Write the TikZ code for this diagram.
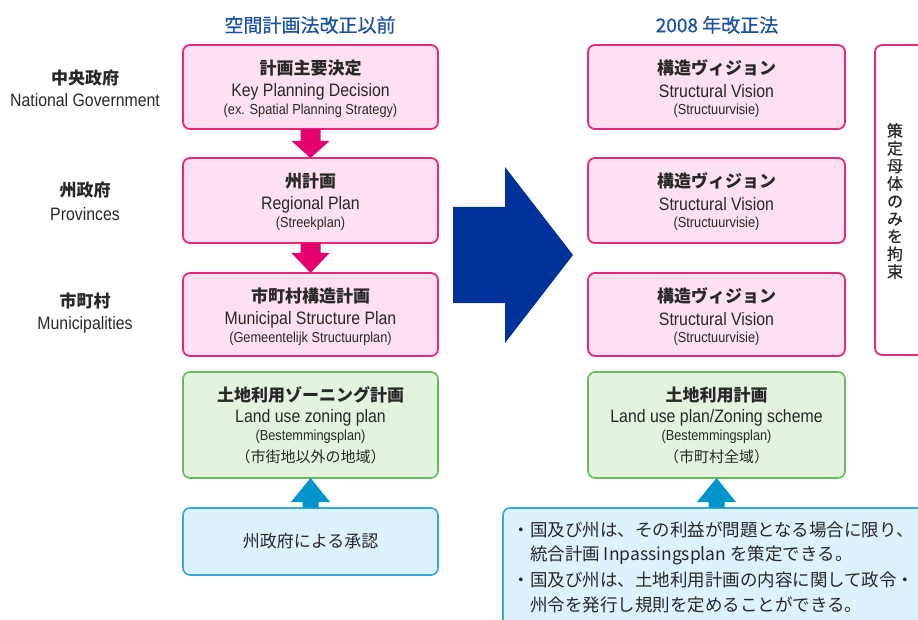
\documentclass[tikz,border=0pt]{standalone}
\usepackage{fontspec}
\setmainfont[FakeStretch=0.88]{Liberation Sans}
\newfontfamily\jp{Noto Sans CJK JP}
\newfontfamily\jph[FakeBold=0.6]{Noto Sans CJK JP}
\usetikzlibrary{calc}
\definecolor{pinkB}{RGB}{232,40,122}
\definecolor{pinkF}{RGB}{253,224,241}
\definecolor{pinkA}{RGB}{230,0,110}
\definecolor{greenB}{RGB}{102,187,92}
\definecolor{greenF}{RGB}{227,243,224}
\definecolor{blueB}{RGB}{52,168,220}
\definecolor{blueF}{RGB}{220,242,253}
\definecolor{blueA}{RGB}{0,150,204}
\definecolor{navy}{RGB}{0,51,153}
\definecolor{headC}{RGB}{30,80,165}
\definecolor{txt}{RGB}{40,40,40}
\begin{document}
\begin{tikzpicture}[x=1pt,y=-1pt,
  every node/.style={text=txt, inner sep=0pt, outer sep=0pt},
  pinkbox/.style={draw=pinkB, fill=pinkF, line width=1.8pt, rounded corners=7pt, minimum width=255pt},
  greenbox/.style={draw=greenB, fill=greenF, line width=1.6pt, rounded corners=7pt, minimum width=255pt},
  bluebox/.style={draw=blueB, fill=blueF, line width=1.6pt, rounded corners=7pt},
  sidebox/.style={draw=pinkB, fill=white, line width=1.8pt, rounded corners=7pt},
  jptitle/.style={font=\jp\bfseries\fontsize{17}{19}\selectfont},
  jpsub/.style={font=\jp\fontsize{15}{17}\selectfont},
  entext/.style={font=\fontsize{18}{20}\selectfont},
  ensmall/.style={font=\fontsize{14.5}{16}\selectfont},
  heading/.style={font=\jph\fontsize{19}{21}\selectfont, text=headC},
  lvl/.style={font=\jp\bfseries\fontsize{17}{19}\selectfont},
  body/.style={font=\jp\fontsize{17.5}{19}\selectfont, anchor=west}
]
\useasboundingbox (0,0) rectangle (918,620);
\clip (0,0) rectangle (918,620);

% headings
\node[heading] (h1) at (310,25) {空間計画法改正以前};
\node[heading] (h2) at (717,25) {2008 年改正法};

% level labels
\node[lvl] (n1) at (85,78) {中央政府};
\node[entext] (n2) at (85,100.5) {National Government};
\node[lvl] (p1) at (85,190) {州政府};
\node[entext] (p2) at (85,214) {Provinces};
\node[lvl] (m1) at (85,301) {市町村};
\node[entext] (m2) at (85,325) {Municipalities};

% left boxes
\node[pinkbox, minimum height=84pt] (L1) at (310.5,87) {};
\node[pinkbox, minimum height=85pt] (L2) at (310.5,200.5) {};
\node[pinkbox, minimum height=83pt] (L3) at (310.5,314.5) {};
\node[greenbox, minimum height=106pt] (LG) at (310.5,425) {};
\node[bluebox, minimum width=255pt, minimum height=67pt] (LB) at (310.5,541.5) {};

% right boxes
\node[pinkbox, minimum width=257pt, minimum height=84pt] (R1) at (716.5,87) {};
\node[pinkbox, minimum width=257pt, minimum height=85pt] (R2) at (716.5,200.5) {};
\node[pinkbox, minimum width=257pt, minimum height=83pt] (R3) at (716.5,314.5) {};
\node[greenbox, minimum width=257pt, minimum height=106pt] (RG) at (716.5,425) {};
\node[bluebox, minimum width=500pt, minimum height=200pt] (RB) at (753,608) {};
\node[sidebox, minimum width=110pt, minimum height=310pt] (S) at (930,200) {};

% texts in left boxes
\node[jptitle] (L1a) at ($(L1.north)+(0,23)$) {計画主要決定};
\node[entext]  (L1b) at ($(L1.north)+(0,46.5)$) {Key Planning Decision};
\node[ensmall] (L1c) at ($(L1.north)+(0,65.5)$) {(ex. Spatial Planning Strategy)};
\node[jptitle] (L2a) at ($(L2.north)+(0,23)$) {州計画};
\node[entext]  (L2b) at ($(L2.north)+(0,46.5)$) {Regional Plan};
\node[ensmall] (L2c) at ($(L2.north)+(0,65.5)$) {(Streekplan)};
\node[jptitle] (L3a) at ($(L3.north)+(0,23)$) {市町村構造計画};
\node[entext]  (L3b) at ($(L3.north)+(0,46.5)$) {Municipal Structure Plan};
\node[ensmall] (L3c) at ($(L3.north)+(0,65.5)$) {(Gemeentelijk Structuurplan)};
\node[jptitle] (LGa) at ($(LG.north)+(0,23)$) {土地利用ゾーニング計画};
\node[entext]  (LGb) at ($(LG.north)+(0,46)$) {Land use zoning plan};
\node[ensmall] (LGc) at ($(LG.north)+(0,65)$) {(Bestemmingsplan)};
\node[jpsub]   (LGd) at ($(LG.north)+(0,85)$) {（市街地以外の地域）};
\node[font=\jp\fontsize{17}{19}\selectfont] (LBa) at (LB.center) {州政府による承認};

% texts in right boxes
\node[jptitle] (R1a) at ($(R1.north)+(0,23)$) {構造ヴィジョン};
\node[entext]  (R1b) at ($(R1.north)+(0,46.5)$) {Structural Vision};
\node[ensmall] (R1c) at ($(R1.north)+(0,65.5)$) {(Structuurvisie)};
\node[jptitle] (R2a) at ($(R2.north)+(0,23)$) {構造ヴィジョン};
\node[entext]  (R2b) at ($(R2.north)+(0,46.5)$) {Structural Vision};
\node[ensmall] (R2c) at ($(R2.north)+(0,65.5)$) {(Structuurvisie)};
\node[jptitle] (R3a) at ($(R3.north)+(0,23)$) {構造ヴィジョン};
\node[entext]  (R3b) at ($(R3.north)+(0,46.5)$) {Structural Vision};
\node[ensmall] (R3c) at ($(R3.north)+(0,65.5)$) {(Structuurvisie)};
\node[jptitle] (RGa) at ($(RG.north)+(0,23)$) {土地利用計画};
\node[entext]  (RGb) at ($(RG.north)+(0,46)$) {Land use plan/Zoning scheme};
\node[ensmall] (RGc) at ($(RG.north)+(0,65)$) {(Bestemmingsplan)};
\node[jpsub]   (RGd) at ($(RG.north)+(0,85)$) {（市町村全域）};

\node[body] (t1) at (512.5,530) {・国及び州は、その利益が問題となる場合に限り、};
\node[body] (t2) at (530,555) {統合計画 Inpassingsplan を策定できる。};
\node[body] (t3) at (512.5,580) {・国及び州は、土地利用計画の内容に関して政令・};
\node[body] (t4) at (530,605) {州令を発行し規則を定めることができる。};

\node[align=center, font=\jph\fontsize{16}{17.6}\selectfont] (Sa) at (895,201)
  {策\\定\\母\\体\\の\\み\\を\\拘\\束};

% pink block arrows
\fill[pinkA] ($(L1.south)+(-10,0)$) -- ($(L1.south)+(10,0)$) -- ($(L1.south)+(10,12)$)
  -- ($(L1.south)+(19,12)$) -- (L2.north) -- ($(L1.south)+(-19,12)$) -- ($(L1.south)+(-10,12)$) -- cycle;
\fill[pinkA] ($(L2.south)+(-10,0)$) -- ($(L2.south)+(10,0)$) -- ($(L2.south)+(10,10)$)
  -- ($(L2.south)+(19,10)$) -- (L3.north) -- ($(L2.south)+(-19,10)$) -- ($(L2.south)+(-10,10)$) -- cycle;

% blue up arrows
\fill[blueA] ($(LB.north)+(-8,0)$) -- ($(LB.north)+(8,0)$) -- ($(LB.north)+(8,-6)$)
  -- ($(LB.north)+(19.5,-6)$) -- (LG.south) -- ($(LB.north)+(-19.5,-6)$) -- ($(LB.north)+(-8,-6)$) -- cycle;
\coordinate (RBtop) at (RG.south |- RB.north);
\fill[blueA] ($(RBtop)+(-8,0)$) -- ($(RBtop)+(8,0)$) -- ($(RBtop)+(8,-6)$)
  -- ($(RBtop)+(19.5,-6)$) -- (RG.south) -- ($(RBtop)+(-19.5,-6)$) -- ($(RBtop)+(-8,-6)$) -- cycle;

% big navy arrow
\coordinate (BA) at (453,255);
\fill[navy] ($(BA)+(0,-48)$) -- ($(BA)+(52,-48)$) -- ($(BA)+(52,-88)$) -- ($(BA)+(120,0)$)
  -- ($(BA)+(52,88)$) -- ($(BA)+(52,48)$) -- ($(BA)+(0,48)$) -- cycle;
\end{tikzpicture}
\end{document}
